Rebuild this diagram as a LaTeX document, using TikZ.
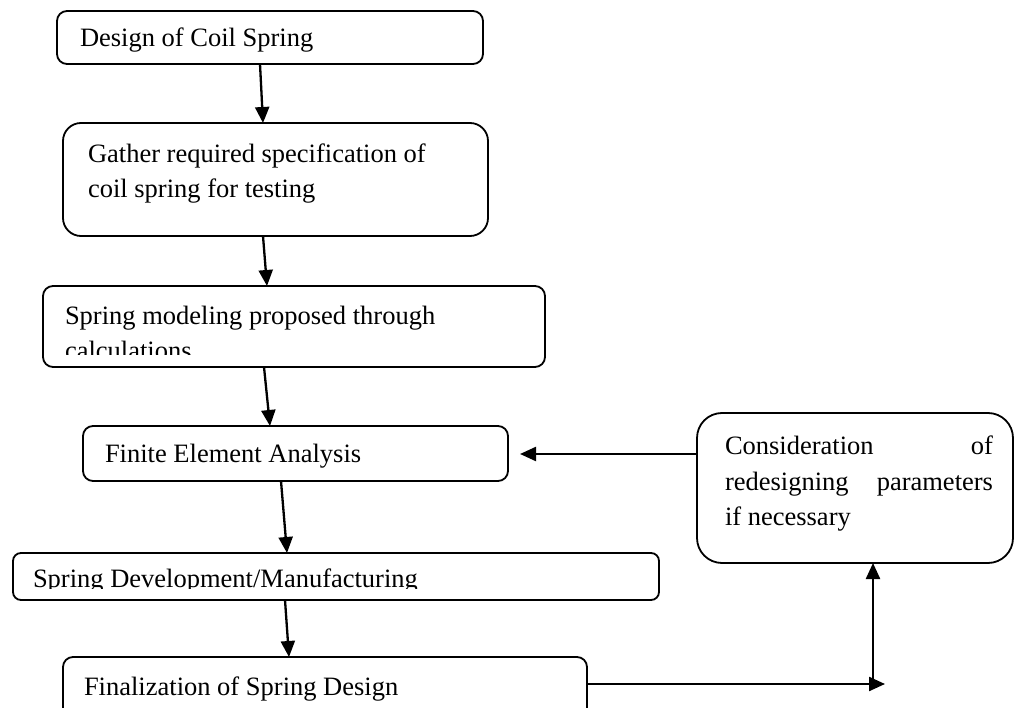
\documentclass[tikz,border=0pt]{standalone}
\usepackage{fontspec}
\setmainfont{Liberation Serif}
\usetikzlibrary{arrows.meta,calc}
\tikzset{
  box/.style={draw, line width=1.8pt, rectangle, rounded corners=#1, inner sep=0pt, outer sep=0pt, anchor=north west},
  box/.default=10pt,
  txt/.style={anchor=base west, inner sep=0pt, outer sep=0pt, font=\fontsize{26.5}{35}\selectfont},
  arr/.style={line width=2.3pt, -{Triangle[length=16pt,width=14pt]}},
  ln/.style={line width=2.3pt}
}
\begin{document}
\begin{tikzpicture}[x=1pt,y=-1pt]
\useasboundingbox (0,0) rectangle (1015,708);
\clip (0,0) rectangle (1015,708);
% boxes
\node[box, minimum width=426pt, minimum height=53pt] (b1) at (57,11) {};
\node[box=18pt, minimum width=425pt, minimum height=113pt] (b2) at (63,123) {};
\node[box, minimum width=502pt, minimum height=81pt] (b3) at (43,286) {};
\node[box, minimum width=425pt, minimum height=55pt] (b4) at (83,426) {};
\node[box=25pt, minimum width=316pt, minimum height=150pt] (b5) at (697,413) {};
\node[box=8pt, minimum width=646pt, minimum height=47pt] (b6) at (13,553) {};
\node[box, minimum width=524pt, minimum height=63pt] (b7) at (63,657) {};
% texts
\node[txt] (t1) at (80,47) {Design of Coil Spring};
\node[txt] (t2a) at (88,163) {Gather required specification of};
\node[txt] (t2b) at (88,198) {coil spring for testing};
\node[txt] (t3a) at (65,325) {Spring modeling proposed through};
\begin{scope}
\clip (43,286) rectangle (545,355);
\node[txt] (t3b) at (65,360) {calculations};
\end{scope}
\node[txt] (t4) at (105,463) {Finite Element Analysis};
\node[txt] (t5a) at (725,454) {\makebox[268pt][s]{Consideration of}};
\node[txt] (t5b) at (725,490) {\makebox[268pt][s]{redesigning parameters}};
\node[txt] (t5c) at (725,525) {if necessary};
\begin{scope}
\clip (13,553) rectangle (659,588);
\node[txt] (t6) at (33,587) {Spring Development/Manufacturing};
\end{scope}
\node[txt] (t7) at (84,695) {Finalization of Spring Design};
% connectors
\coordinate (feain) at (520,454);
\coordinate (fin) at (885,684);
\draw[arr] ($(b1.south west)+(203,0)$) -- ($(b2.north west)+(200,0)$);
\draw[arr] ($(b2.south west)+(200,0)$) -- ($(b3.north west)+(224,0)$);
\draw[arr] ($(b3.south west)+(221,0)$) -- ($(b4.north west)+(187,0)$);
\draw[arr] ($(b4.south west)+(198,0)$) -- ($(b6.north west)+(274,0)$);
\draw[arr] ($(b6.south west)+(272,0)$) -- ($(b7.north west)+(226,0)$);
\draw[arr] ($(b5.north west)+(0,41)$) -- (feain);
\draw[arr] ($(b7.north east)+(0,27)$) -- (fin);
\draw[arr] ($(b5.south west)+(176,121)$) -- ($(b5.south west)+(176,0)$);
\end{tikzpicture}
\end{document}
